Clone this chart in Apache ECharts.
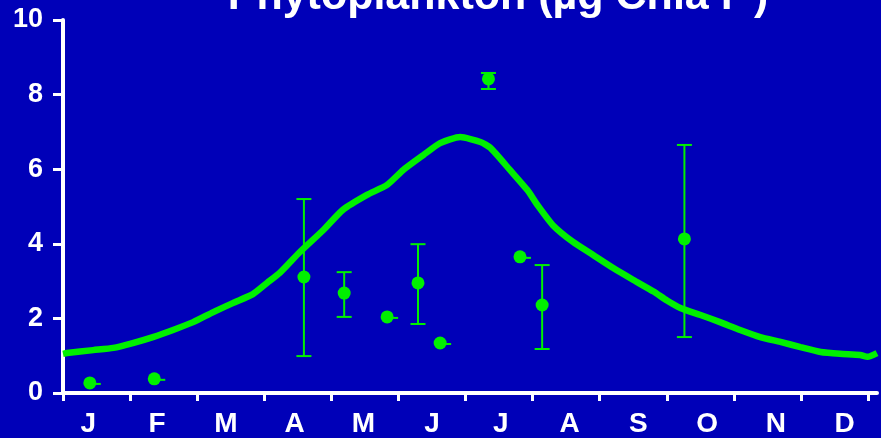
<!DOCTYPE html>
<html>
<head>
<meta charset="utf-8">
<script src="https://cdn.jsdelivr.net/npm/echarts@6/dist/echarts.min.js"></script>
<style>
  html, body { margin: 0; padding: 0; background: #0000b8; }
  #main { width: 881px; height: 438px; }
</style>
</head>
<body>
<div id="main"></div>
<script>
// month labels (x axis)
const months = ['J', 'F', 'M', 'A', 'M', 'J', 'J', 'A', 'S', 'O', 'N', 'D'];

// modelled seasonal curve: time in months since 1 Jan, chl a (µg/l)
const curveMonth = [0, 0.06, 0.45, 0.75, 1.04, 1.34, 1.64, 1.94, 2.24, 2.53, 2.83, 3.04, 3.23,
  3.53, 3.88, 4.17, 4.53, 4.83, 5.07, 5.37, 5.62, 5.92, 6.22, 6.37, 6.66, 6.92, 7.07,
  7.30, 7.60, 7.90, 8.20, 8.50, 8.80, 9.00, 9.20, 9.50, 9.79, 10.09, 10.39, 10.69,
  10.99, 11.29, 11.58, 11.88, 11.99, 12.13];
const curveChla = [1.05, 1.07, 1.15, 1.21, 1.34, 1.50, 1.69, 1.90, 2.17, 2.41, 2.65, 2.95, 3.22,
  3.78, 4.37, 4.91, 5.31, 5.58, 5.98, 6.38, 6.70, 6.86, 6.73, 6.57, 5.98, 5.44, 5.04,
  4.50, 4.05, 3.70, 3.35, 3.03, 2.72, 2.48, 2.28, 2.09, 1.90, 1.69, 1.50, 1.37,
  1.23, 1.10, 1.05, 1.02, 0.97, 1.07];

// measured samples: mean with low / high error limits
const sampleMonth = [0.40, 1.36, 3.59, 4.19, 4.83, 5.29, 5.62, 6.34, 6.81, 7.14, 9.26];
const sampleMean  = [0.27, 0.38, 3.11, 2.68, 2.04, 2.95, 1.34, 8.42, 3.65, 2.36, 4.13];
const sampleLow   = [0.25, 0.36, 0.99, 2.04, 1.96, 1.85, 1.32, 8.15, 3.63, 1.18, 1.50];
const sampleHigh  = [0.29, 0.40, 5.20, 3.24, 2.12, 3.99, 1.36, 8.58, 3.67, 3.43, 6.65];

const green = '#00f000';
const white = '#ffffff';
const font = 'Liberation Sans, Arial, sans-serif';

const chart = echarts.init(document.getElementById('main'), null, { renderer: 'canvas' });

const curveData = curveMonth.map((m, i) => [m, curveChla[i]]);
const meanData = sampleMonth.map((m, i) => [m, sampleMean[i]]);
const errData = sampleMonth.map((m, i) => [m, sampleLow[i], sampleHigh[i], sampleMean[i]]);

function renderError(params, api) {
  const x = api.value(0);
  const lo = api.coord([x, api.value(1)]);
  const hi = api.coord([x, api.value(2)]);
  const mid = api.coord([x, api.value(3)]);
  const style = { stroke: green, lineWidth: 2 };
  if (api.value(2) - api.value(1) < 0.3) {
    // tiny spread: only a short stub shows beside the dot
    return {
      type: 'line',
      shape: { x1: mid[0], y1: mid[1] + 1, x2: mid[0] + 11, y2: mid[1] + 1 },
      style: style
    };
  }
  const cap = 7.5;
  return {
    type: 'group',
    children: [
      { type: 'line', shape: { x1: lo[0], y1: lo[1], x2: hi[0], y2: hi[1] }, style: style },
      { type: 'line', shape: { x1: hi[0] - cap, y1: hi[1], x2: hi[0] + cap, y2: hi[1] }, style: style },
      { type: 'line', shape: { x1: lo[0] - cap, y1: lo[1], x2: lo[0] + cap, y2: lo[1] }, style: style }
    ]
  };
}

const option = {
  backgroundColor: '#0000b8',
  animation: false,
  title: {
    text: 'Phytoplankton (µg Chla l{sup|-1})',
    left: 493,
    textAlign: 'center',
    top: -30,
    textStyle: {
      color: white,
      fontSize: 43,
      fontWeight: 'bold',
      fontFamily: font,
      rich: {
        sup: { color: white, fontSize: 24, fontWeight: 'bold', fontFamily: font, padding: [0, 0, 20, 0] }
      }
    }
  },
  grid: [
    { left: 63, right: 4, top: 20, bottom: 45 },   // data
    { left: 63, right: 13, top: 20, bottom: 45 },  // month ticks
    { left: 54, right: 2, top: 20, bottom: 45 }    // month labels
  ],
  xAxis: [
    {
      gridIndex: 0, type: 'value', min: 0, max: 12.13,
      axisLine: { show: true, lineStyle: { color: white, width: 4 } },
      axisTick: { show: false }, axisLabel: { show: false }, splitLine: { show: false }
    },
    {
      gridIndex: 1, type: 'value', min: 0, max: 12, interval: 1,
      axisLine: { show: false },
      axisTick: { show: true, length: 8, lineStyle: { color: white, width: 3 } },
      axisLabel: { show: false }, splitLine: { show: false }
    },
    {
      gridIndex: 2, type: 'category', data: months,
      axisLine: { show: false }, axisTick: { show: false },
      axisLabel: { color: white, fontSize: 28, fontWeight: 'bold', fontFamily: font, margin: 17, interval: 0 }
    }
  ],
  yAxis: [
    {
      gridIndex: 0, type: 'value', min: 0, max: 10, interval: 2,
      axisLine: { show: true, lineStyle: { color: white, width: 4 } },
      axisTick: { show: true, length: 10, lineStyle: { color: white, width: 3 } },
      axisLabel: { color: white, fontSize: 27, fontWeight: 'bold', fontFamily: font, margin: 20 },
      splitLine: { show: false }
    },
    { gridIndex: 1, type: 'value', min: 0, max: 10, show: false },
    { gridIndex: 2, type: 'value', min: 0, max: 10, show: false }
  ],
  series: [
    {
      type: 'line',
      xAxisIndex: 0, yAxisIndex: 0,
      data: curveData,
      smooth: 0.2,
      symbol: 'none',
      lineStyle: { color: green, width: 6.5 }
    },
    {
      type: 'custom',
      xAxisIndex: 0, yAxisIndex: 0,
      data: errData,
      renderItem: renderError,
      z: 3
    },
    {
      type: 'scatter',
      xAxisIndex: 0, yAxisIndex: 0,
      data: meanData,
      symbolSize: 13,
      itemStyle: { color: green, opacity: 1 },
      z: 4
    }
  ]
};

chart.setOption(option);
</script>
</body>
</html>
